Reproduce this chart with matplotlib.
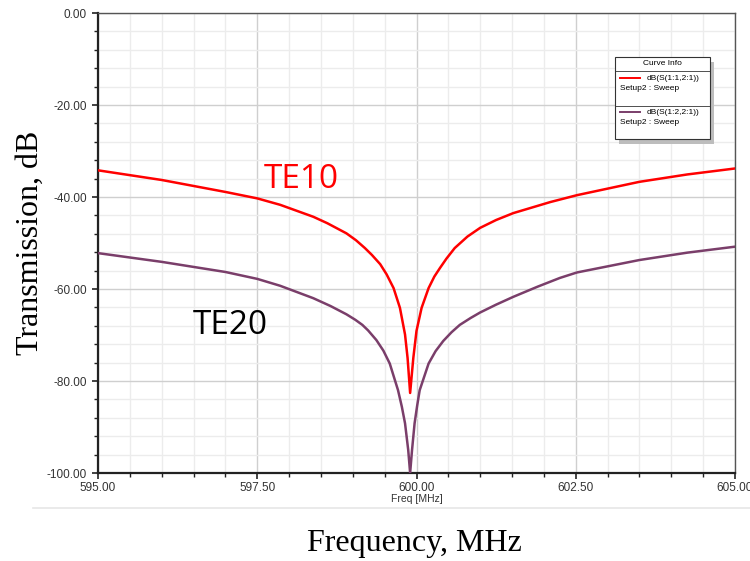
import matplotlib
matplotlib.use("Agg")
import matplotlib.pyplot as plt
from matplotlib.ticker import MultipleLocator, FormatStrFormatter
from matplotlib.patches import Rectangle
from matplotlib.lines import Line2D

# Data
freq_te10 = [595.0, 596.0, 597.0, 597.5, 597.86, 598.38, 598.6, 598.9, 599.05, 599.19,
             599.3, 599.43, 599.53, 599.64, 599.74, 599.82, 599.86, 599.90, 599.95,
             600.0, 600.08, 600.19, 600.28, 600.37, 600.47, 600.6, 600.8, 601.0,
             601.25, 601.52, 602.1, 602.52, 603.5, 604.25, 605.0]
db_te10 = [-34.2, -36.3, -38.9, -40.3, -41.7, -44.3, -45.7, -47.9, -49.4, -51.1,
           -52.6, -54.6, -56.8, -59.8, -64.1, -69.9, -75.0, -82.6, -75.0,
           -69.1, -64.1, -59.8, -57.3, -55.4, -53.4, -51.1, -48.6, -46.7,
           -45.0, -43.5, -41.1, -39.6, -36.7, -35.1, -33.8]

freq_te20 = [595.0, 596.0, 597.0, 597.5, 597.86, 598.38, 598.65, 598.9, 599.04, 599.15,
             599.24, 599.37, 599.48, 599.58, 599.71, 599.77, 599.82, 599.87, 599.90,
             599.93, 599.97, 600.01, 600.05, 600.19, 600.3, 600.42, 600.55, 600.68,
             600.85, 601.0, 601.25, 601.52, 601.9, 602.25, 602.52, 603.5, 604.25, 605.0]
db_te20 = [-52.2, -54.1, -56.3, -57.8, -59.3, -62.0, -63.7, -65.5, -66.7, -67.8,
           -69.0, -71.1, -73.4, -76.2, -82.0, -85.6, -89.2, -95.0, -100.0,
           -95.0, -89.2, -85.4, -82.0, -76.2, -73.5, -71.3, -69.4, -67.8,
           -66.3, -65.1, -63.4, -61.7, -59.5, -57.6, -56.4, -53.7, -52.1, -50.8]

red = "#ff0000"
purple = "#7a3e6a"

fig = plt.figure(figsize=(7.5, 5.61), dpi=100)
ax = fig.add_axes([98/750, 1-473/561, (735-98)/750, (473-13)/561])

ax.plot(freq_te10, db_te10, color=red, lw=1.8, zorder=3, solid_joinstyle="round")
ax.plot(freq_te20, db_te20, color=purple, lw=1.8, zorder=3, solid_joinstyle="round")

ax.set_xlim(595, 605)
ax.set_ylim(-100, 0)
ax.xaxis.set_major_locator(MultipleLocator(2.5))
ax.xaxis.set_minor_locator(MultipleLocator(0.5))
ax.yaxis.set_major_locator(MultipleLocator(20))
ax.yaxis.set_minor_locator(MultipleLocator(4))
ax.xaxis.set_major_formatter(FormatStrFormatter("%.2f"))
ax.yaxis.set_major_formatter(FormatStrFormatter("%.2f"))
ax.grid(which="major", color="#cfcfcf", lw=1.0)
ax.grid(which="minor", color="#ececec", lw=1.0)
ax.set_axisbelow(True)

for s in ["left", "bottom"]:
    ax.spines[s].set_color("#222222")
    ax.spines[s].set_linewidth(1.6)
for s in ["top", "right"]:
    ax.spines[s].set_color("#555555")
    ax.spines[s].set_linewidth(1.0)

ax.tick_params(which="major", direction="out", length=4, width=1.2, color="#222222",
               labelsize=8.5, labelcolor="#333333", pad=4)
ax.tick_params(axis="x", which="major", pad=2.5)
ax.tick_params(which="minor", direction="out", length=3, width=1.0, color="#222222")
ax.tick_params(top=False, right=False)
for lab in ax.get_xticklabels() + ax.get_yticklabels():
    lab.set_family("Liberation Sans")

ax.set_xlabel("Freq [MHz]", fontsize=7.5, family="Liberation Sans", color="#333333", labelpad=0)

# Curve labels
fig.text(264/750, 1-180/561, "TE10", color=red, fontsize=24, family="Open Sans",
         va="center", ha="left")
fig.text(193/750, 1-325/561, "TE20", color="black", fontsize=24, family="Open Sans",
         va="center", ha="left")

# Outer labels
fig.text(30/750, 1-243/561, "Transmission, dB", rotation=90, fontsize=23,
         family="Liberation Serif", va="center", ha="center")
fig.text(414/750, 1-543/561, "Frequency, MHz", fontsize=23,
         family="Liberation Serif", va="center", ha="center")

# separator line
fig.add_artist(Line2D([33/750, 1.0], [1-508/561, 1-508/561], color="#e6e6e6", lw=1.2))

# Curve Info box
bx0, by0, bw, bh = 615/750, 1-139/561, 95/750, 82/561
fig.add_artist(Rectangle((bx0+4/750, by0-5/561), bw, bh, facecolor="#bdbdbd",
                         edgecolor="none", zorder=4))
fig.add_artist(Rectangle((bx0, by0), bw, bh, facecolor="white", edgecolor="#333333",
                         lw=0.8, zorder=5))
fig.add_artist(Line2D([bx0, bx0+bw], [1-71/561, 1-71/561], color="#333333", lw=0.6, zorder=6))
fig.add_artist(Line2D([bx0, bx0+bw], [1-106/561, 1-106/561], color="#333333", lw=0.6, zorder=6))
fig.text((bx0+bw/2), 1-64/561, "Curve Info", fontsize=6, family="Liberation Sans",
         ha="center", va="center", zorder=7)
fig.add_artist(Line2D([620/750, 640/750], [1-78/561, 1-78/561], color=red, lw=1.4, zorder=7))
fig.text(647/750, 1-78/561, "dB(S(1:1,2:1))", fontsize=6, family="Liberation Sans",
         ha="left", va="center", zorder=7)
fig.text(620/750, 1-89/561, "Setup2 : Sweep", fontsize=6, family="Liberation Sans",
         ha="left", va="center", zorder=7)
fig.add_artist(Line2D([620/750, 640/750], [1-112/561, 1-112/561], color=purple, lw=1.4, zorder=7))
fig.text(647/750, 1-112/561, "dB(S(1:2,2:1))", fontsize=6, family="Liberation Sans",
         ha="left", va="center", zorder=7)
fig.text(620/750, 1-122/561, "Setup2 : Sweep", fontsize=6, family="Liberation Sans",
         ha="left", va="center", zorder=7)

fig.savefig("out.png", dpi=100)
